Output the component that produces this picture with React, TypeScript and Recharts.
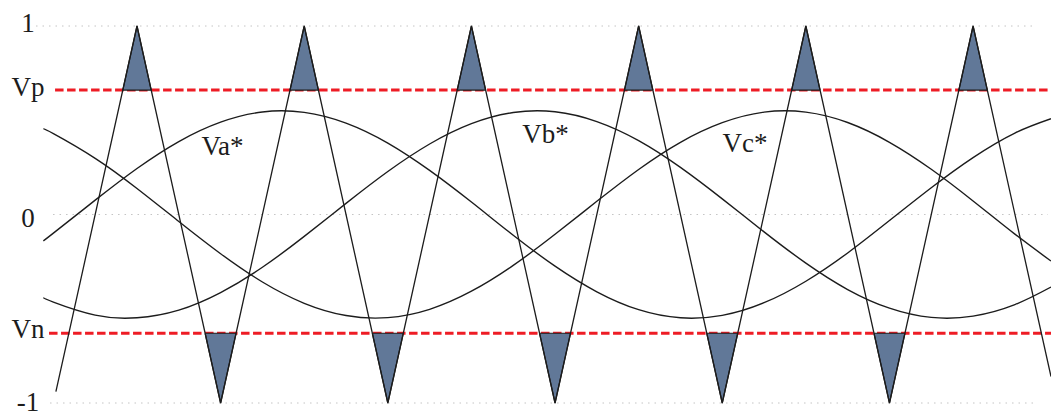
import { ComposedChart, Line, Area, XAxis, YAxis, ReferenceLine, ReferenceDot } from 'recharts';

// modulation levels
const VP = 0.66;
const VN = -0.63;

// time axis, in carrier periods
const T_MIN = -0.104;
const T_MAX = 5.966;

// triangular carrier corners
const carrierT = [0.015, 0.5, 1, 1.5, 2, 2.5, 3, 3.5, 4, 4.5, 5, 5.5, 5.966];
const carrierV = [-0.94, 1, -1, 1, -1, 1, -1, 1, -1, 1, -1, 1, -0.86];

// three-phase references
const sineT = [
  -0.06, 0, 0.25, 0.5, 0.75, 1, 1.25, 1.5, 1.75, 2, 2.25, 2.5, 2.75,
  3, 3.25, 3.5, 3.75, 4, 4.25, 4.5, 4.75, 5, 5.25, 5.5, 5.75, 5.966,
];
const vaStar = [
  -0.14, -0.099, 0.076, 0.244, 0.387, 0.49, 0.544, 0.542, 0.485, 0.379, 0.234, 0.066, -0.11,
  -0.274, -0.41, -0.505, -0.548, -0.535, -0.468, -0.354, -0.204, -0.032, 0.142, 0.302, 0.432, 0.508,
];
const vbStar = [
  -0.441, -0.465, -0.534, -0.548, -0.507, -0.414, -0.28, -0.116, 0.059, 0.228, 0.374, 0.482, 0.541,
  0.545, 0.493, 0.392, 0.25, 0.083, -0.092, -0.258, -0.398, -0.497, -0.546, -0.539, -0.478, -0.385,
];
const vcStar = [
  0.454, 0.429, 0.298, 0.138, -0.037, -0.208, -0.358, -0.471, -0.536, -0.547, -0.503, -0.407, -0.27,
  -0.105, 0.07, 0.239, 0.383, 0.487, 0.543, 0.543, 0.488, 0.383, 0.24, 0.072, -0.104, -0.247,
];

const yTicks = [1, VP, 0, VN, -1];
const yTickLabels = ['1', 'Vp', '0', 'Vn', '-1'];

const phaseNames = ['Va*', 'Vb*', 'Vc*'];
const phaseLabelT = [1.011, 2.943, 4.136];
const phaseLabelV = [0.316, 0.379, 0.332];

const INK = '#1c1c1c';
const RED = '#ee1c25';
const FONT = '"Liberation Serif", "Times New Roman", serif';

type Pt = { t: number; v: number };

const carrier: Pt[] = carrierT.map((t, i) => ({ t, v: carrierV[i] }));
const toSeries = (vals: number[]): Pt[] => sineT.map((t, i) => ({ t, v: vals[i] }));

// slices of the carrier that go past a level, as [level, tip] bands
function pulses(level: number, above: boolean) {
  const out: { t: number; band: [number, number] | null }[] = [];
  const cross = (a: Pt, b: Pt) => a.t + ((level - a.v) / (b.v - a.v)) * (b.t - a.t);
  for (let i = 1; i < carrier.length - 1; i++) {
    const p = carrier[i];
    if (above ? p.v <= level : p.v >= level) continue;
    out.push({ t: cross(carrier[i - 1], p), band: [level, level] });
    out.push({ t: p.t, band: [level, p.v] });
    out.push({ t: cross(p, carrier[i + 1]), band: [level, level] });
    out.push({ t: p.t + 0.5, band: null });
  }
  return out;
}

const TICK_DY: Record<string, number> = { '1': 6, Vp: 5.5, '0': 12, Vn: 4.5, '-1': 8 };

const YTick = (props: { y?: number; payload?: { value: number } }) => {
  const idx = yTicks.indexOf(props.payload?.value ?? NaN);
  const label = yTickLabels[idx] ?? '';
  return (
    <text x={28} y={(props.y ?? 0) + TICK_DY[label]} textAnchor="middle" fontSize={27} fontFamily={FONT} fill={INK}>
      {label}
    </text>
  );
};

const grid = [
  { v: 1, from: -0.104, to: 5.87 },
  { v: 0, from: -0.002, to: 5.948 },
  { v: -1, from: -0.02, to: 5.87 },
];

// dashed threshold lines, drawn as unfilled areas so the pulses sit on top
const levelLines = [
  { v: VP, from: 0.01 },
  { v: VN, from: -0.026 },
];

export default function App() {
  return (
    <div style={{ position: 'absolute', left: 0, top: 0, width: 1051, height: 412, background: '#fff' }}>
      <ComposedChart width={1051} height={412} margin={{ top: 26, right: 0, bottom: 9, left: 0 }}>
        <XAxis type="number" dataKey="t" domain={[T_MIN, T_MAX]} hide allowDataOverflow />
        <YAxis
          type="number"
          domain={[-1, 1]}
          ticks={yTicks}
          interval={0}
          width={36}
          axisLine={false}
          tickLine={false}
          tick={(p: any) => <YTick {...p} />}
        />
        {grid.map(g => (
          <ReferenceLine
            key={g.v}
            segment={[{ x: g.from, y: g.v }, { x: g.to, y: g.v }]}
            stroke="#c4c4c4"
            strokeDasharray="1.5 5"
            ifOverflow="visible"
          />
        ))}
        {levelLines.map(l => (
          <Area
            key={l.v}
            data={[{ t: l.from, v: l.v }, { t: T_MAX, v: l.v }]}
            dataKey="v"
            baseValue={l.v}
            type="linear"
            fill="none"
            stroke={RED}
            strokeWidth={3}
            strokeDasharray="8.5 3.5"
            dot={false}
            activeDot={false}
            isAnimationActive={false}
          />
        ))}
        <Area
          data={pulses(VP, true)}
          dataKey="band"
          type="linear"
          fill="#617898"
          fillOpacity={1}
          stroke={INK}
          strokeWidth={1.2}
          connectNulls={false}
          dot={false}
          activeDot={false}
          isAnimationActive={false}
        />
        <Area
          data={pulses(VN, false)}
          dataKey="band"
          type="linear"
          fill="#617898"
          fillOpacity={1}
          stroke={INK}
          strokeWidth={1.2}
          connectNulls={false}
          dot={false}
          activeDot={false}
          isAnimationActive={false}
        />
        <Line data={carrier} dataKey="v" type="linear" stroke={INK} strokeWidth={1.3} dot={false} activeDot={false} isAnimationActive={false} />
        {[vaStar, vbStar, vcStar].map((vals, i) => (
          <Line
            key={phaseNames[i]}
            data={toSeries(vals)}
            dataKey="v"
            type="natural"
            stroke={INK}
            strokeWidth={1.4}
            dot={false}
            activeDot={false}
            isAnimationActive={false}
          />
        ))}
        {phaseNames.map((name, i) => (
          <ReferenceDot
            key={name}
            x={phaseLabelT[i]}
            y={phaseLabelV[i]}
            r={0}
            ifOverflow="visible"
            shape={(p: any) => (
              <text x={p.cx} y={p.cy} textAnchor="middle" fontSize={27} fontFamily={FONT} fill={INK}>
                {name}
              </text>
            )}
          />
        ))}
      </ComposedChart>
    </div>
  );
}
